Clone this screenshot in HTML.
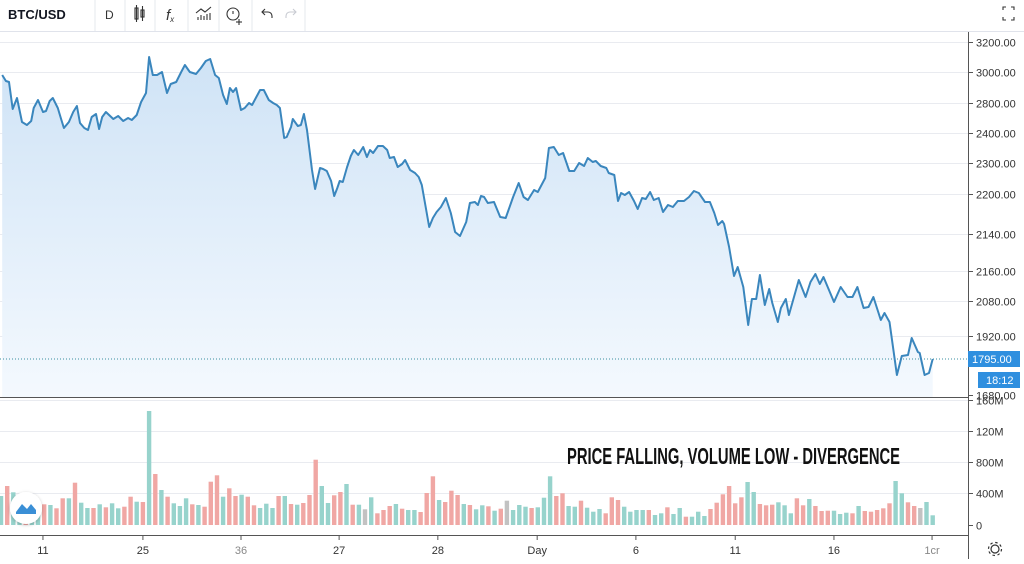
<!DOCTYPE html>
<html><head><meta charset="utf-8">
<style>
html,body{margin:0;padding:0;background:#fff;}
body{width:1024px;height:559px;overflow:hidden;font-family:"Liberation Sans",sans-serif;}
svg text{font-family:"Liberation Sans",sans-serif;}
</style></head>
<body>
<svg id="chart" width="1024" height="559" viewBox="0 0 1024 559" xmlns="http://www.w3.org/2000/svg">
<defs>
<linearGradient id="fillGrad" x1="0" y1="0" x2="0" y2="1">
<stop offset="0" stop-color="#cfe3f6"/>
<stop offset="1" stop-color="#f4f9fe"/>
</linearGradient>
<filter id="sh" x="-50%" y="-50%" width="200%" height="200%"><feDropShadow dx="0" dy="1" stdDeviation="1.5" flood-color="#000" flood-opacity="0.25"/></filter>
</defs>
<!-- toolbar -->
<g>
<rect x="0" y="0" width="1024" height="31" fill="#fff"/>
<line x1="0" y1="31.5" x2="1024" y2="31.5" stroke="#e0e3eb"/>
<text x="8" y="19" font-size="13" font-weight="bold" fill="#131722">BTC/USD</text>
<g stroke="#e6e8ee"><line x1="95" y1="0" x2="95" y2="31"/><line x1="125" y1="0" x2="125" y2="31"/><line x1="155" y1="0" x2="155" y2="31"/><line x1="188" y1="0" x2="188" y2="31"/><line x1="219" y1="0" x2="219" y2="31"/><line x1="252" y1="0" x2="252" y2="31"/><line x1="305" y1="0" x2="305" y2="31"/></g>
<text x="105" y="19" font-size="12" fill="#333">D</text>
<g stroke="#333" fill="none" stroke-width="1.1"><rect x="135" y="8" width="3" height="11"/><line x1="136.5" y1="5" x2="136.5" y2="22"/><rect x="141" y="10" width="3" height="7"/><line x1="142.5" y1="6" x2="142.5" y2="21"/></g>
<text x="166" y="20" font-size="15" font-style="italic" fill="#333" font-family="Liberation Serif">f<tspan font-size="8" dy="2">x</tspan></text>
<g stroke="#333" fill="none" stroke-width="1.1"><polyline points="196,13 201,9 205,12 211,7"/><line x1="198" y1="20" x2="198" y2="17"/><line x1="201" y1="20" x2="201" y2="15"/><line x1="204" y1="20" x2="204" y2="16"/><line x1="207" y1="20" x2="207" y2="14"/><line x1="210" y1="20" x2="210" y2="13"/></g>
<g stroke="#333" fill="none" stroke-width="1.1"><circle cx="233" cy="14" r="6"/><line x1="233" y1="11" x2="233" y2="14"/><line x1="239" y1="19" x2="239" y2="25"/><line x1="236" y1="22" x2="242" y2="22"/></g>
<g stroke="#333" fill="none" stroke-width="1.1"><path d="M262 12 h6 a4 4 0 0 1 4 4 v2"/><polyline points="265,9 262,12 265,15"/></g>
<g stroke="#c8cbd2" fill="none" stroke-width="1.1"><path d="M296 12 h-6 a4 4 0 0 0 -4 4 v2"/><polyline points="293,9 296,12 293,15"/></g>
<g stroke="#333" fill="none" stroke-width="1.1"><polyline points="1003,10 1003,7 1006,7"/><polyline points="1011,7 1014,7 1014,10"/><polyline points="1003,17 1003,20 1006,20"/><polyline points="1011,20 1014,20 1014,17"/></g>
</g>
<g id="grid"></g>
<g id="pricePane"></g>
<g id="volPane"></g>
<g id="axes"></g>
<text x="567" y="464" font-size="23" font-weight="bold" fill="#111" textLength="333" lengthAdjust="spacingAndGlyphs" font-family="Liberation Sans Narrow, Liberation Sans, sans-serif">PRICE FALLING, VOLUME LOW - DIVERGENCE</text>
<g filter="url(#sh)"><circle cx="26" cy="508" r="16" fill="#fff"/></g>
<path d="M16 512 L22 504 L27 509 L31 504 L36 510 L36 514 L16 514 Z" fill="#3a8fd6"/>
<g stroke="#333" fill="none" stroke-width="1.2"><circle cx="995" cy="549" r="4"/><circle cx="995" cy="549" r="6.5" stroke-dasharray="2.5 2.6"/></g>
</svg>
<script>
const priceTimes=[0.2,0.8,1.3,1.9,2.6,3.4,4.2,4.9,5.3,6.0,6.8,7.3,7.9,8.4,9.2,9.7,10.2,11.0,11.7,12.3,12.8,13.5,14.1,14.7,15.4,15.9,16.4,17.0,18.2,19.0,19.8,20.6,21.2,22.0,22.7,23.5,24.0,24.6,25.3,26.1,26.9,27.5,28.4,29.2,29.8,30.6,31.6,32.4,33.2,33.9,34.7,35.3,36.0,36.6,37.1,37.6,38.1,38.9,39.5,40.2,40.7,41.3,42.0,42.6,43.4,44.1,44.7,45.2,45.9,46.3,47.0,47.3,48.1,48.6,49.1,49.6,50.4,50.9,51.7,52.2,52.8,53.5,54.0,54.5,54.9,55.4,56.1,56.7,57.2,57.9,58.7,59.3,59.8,60.3,61.1,61.9,62.6,63.0,63.7,64.3,65.0,65.5,66.3,67.1,67.7,68.2,69.4,70.0,70.6,71.3,72.1,72.9,73.6,74.4,75.4,76.0,76.8,77.3,77.8,78.3,78.9,79.9,80.9,81.8,83.0,83.9,84.7,85.4,86.4,87.0,88.2,88.8,89.6,90.4,91.1,92.1,92.9,93.7,94.5,95.1,95.9,96.4,97.2,98.1,98.5,99.4,100.0,100.5,101.1,101.8,102.6,103.2,103.9,104.5,105.2,105.8,106.6,107.3,108.1,108.9,109.7,110.7,111.5,112.3,113.1,114.1,114.9,115.6,116.2,116.9,117.2,118.0,118.8,119.4,120.3,121.1,121.7,122.4,123.0,123.8,124.5,125.0,125.9,126.4,127.2,127.7,129.3,130.4,131.2,132.0,132.7,133.3,135.0,136.1,137.2,138.0,138.8,139.8,140.6,141.4,142.6,143.2,144.0,145.2,146.0,147.0,147.6,148.6,148.9,149.7,150.4,151.0];
const priceValues=[2960,2936,2932,2824,2868,2772,2760,2776,2828,2860,2812,2816,2856,2868,2828,2788,2748,2772,2812,2836,2768,2748,2740,2792,2804,2744,2792,2812,2784,2796,2776,2788,2780,2800,2852,2888,3032,2960,2960,2972,2888,2924,2932,2972,3000,2972,2964,2988,3016,3024,2960,2948,2880,2844,2908,2892,2908,2820,2828,2848,2840,2868,2900,2900,2860,2848,2840,2828,2708,2712,2752,2784,2756,2760,2804,2740,2580,2504,2588,2584,2576,2536,2476,2508,2536,2532,2592,2636,2660,2640,2672,2632,2660,2648,2676,2676,2660,2628,2632,2592,2604,2620,2580,2568,2552,2520,2352,2388,2412,2432,2468,2408,2332,2316,2372,2448,2452,2440,2476,2472,2448,2452,2392,2388,2472,2528,2472,2460,2500,2492,2548,2668,2672,2640,2648,2576,2576,2608,2596,2628,2612,2616,2596,2588,2568,2560,2456,2488,2480,2492,2456,2424,2468,2464,2492,2460,2468,2412,2440,2432,2456,2456,2472,2496,2488,2452,2452,2408,2360,2376,2364,2272,2156,2192,2112,1960,2064,2064,2160,2040,2104,2048,1972,2028,2064,2000,2140,2072,2132,2164,2124,2152,2052,2112,2072,2072,2112,2028,2032,2072,1980,2008,1972,1760,1836,1840,1908,1852,1848,1760,1768,1824];
const volumeValues=[87,117,98,85,75,65,60,62,60,50,80,80,127,67,51,51,62,53,65,50,55,85,70,69,342,153,105,85,65,57,80,62,60,55,130,149,85,110,87,91,85,59,51,64,51,87,87,63,61,66,90,196,117,66,89,99,123,61,61,47,83,35,45,57,63,49,45,45,39,96,146,75,69,103,90,63,60,47,59,56,43,49,
73,45,60,55,51,53,82,146,87,95,57,55,73,52,40,48,35,83,75,55,40,45,45,45,30,35,53,33,51,25,25,40,27,48,67,92,117,65,83,129,99,63,59,61,68,59,35,80,59,78,57,42,43,43,33,37,35,57,42,40,45,50,65,132,95,68,57,51,69,29];
const volumeDirs="grggrggrgrrgrggrgrggrrgrgrgrgggrgrrrgrrgrrgggrgrgrrrggrrgrgxgrrrgrggrrrgrrrgrggrgr"+"xgggrgggrrggrgggrrrggggrggrggrgggrrrrrrggrrrgggrrgrrrgggrgrrrrrggrrxg";
const priceTickValues=[3092,2972,2848,2728,2608,2484,2324,2176,2056,1916,1680];
const priceTickLabels=["3200.00","3000.00","2800.00","2400.00","2300.00","2200.00","2140.00","2160.00","2080.00","1920.00","1680.00"];
const volTickValues=[375,282,189,96,0];
const volTickLabels=["160M","120M","800M","400M","0"];
const timeTickValues=[6.8,23.0,38.9,54.8,70.8,86.9,102.9,119.0,135.0,150.9];
const timeTickLabels=["11","25","36","27","28","Day","6","11","16","1cr"];
const lastPrice=1824, lastPriceLabel="1795.00", countdownLabel="18:12";

const NS="http://www.w3.org/2000/svg";
const PLOT_R=968, P_TOP=42, P_BOT=395, V_BASE=525;
function xS(t){return 1+t*6.17;}
function yP(v){return P_BOT-(v-1680)/4;}
function yV(v){return V_BASE-v/3;}
function mk(tag,attrs,parent){const e=document.createElementNS(NS,tag);for(const k in attrs)e.setAttribute(k,attrs[k]);parent.appendChild(e);return e;}
const grid=document.getElementById('grid'),pp=document.getElementById('pricePane'),vp=document.getElementById('volPane'),ax=document.getElementById('axes');

priceTickValues.forEach((v,i)=>{
  const y=Math.round(yP(v))+0.5;
  if(i<priceTickValues.length-1){const g=mk('line',{x1:0,x2:PLOT_R,y1:y,y2:y,stroke:'#e9ebf0'},grid);
  
  }
  const tk=mk('line',{x1:PLOT_R,x2:PLOT_R+5,y1:y,y2:y,stroke:'#555'},ax);
  
  
  const t=mk('text',{x:976,y:y+4,'font-size':11,fill:'#333'},ax);t.textContent=priceTickLabels[i];
  
  
});
volTickValues.forEach((v,i)=>{
  const y=Math.round(yV(v))+0.5;
  if(v>0){const g=mk('line',{x1:0,x2:PLOT_R,y1:y,y2:y,stroke:'#e9ebf0'},grid);
  
  }
  const tk=mk('line',{x1:PLOT_R,x2:PLOT_R+5,y1:y,y2:y,stroke:'#555'},ax);
  
  
  const t=mk('text',{x:976,y:y+4,'font-size':11,fill:'#333'},ax);t.textContent=volTickLabels[i];
  
  
});
// area + line
let d='';priceTimes.forEach((t,i)=>{d+=(i?'L':'M')+xS(t).toFixed(1)+' '+yP(priceValues[i]).toFixed(1);});
const area=mk('path',{d:d+'L'+xS(priceTimes[priceTimes.length-1]).toFixed(1)+' 397L'+xS(priceTimes[0]).toFixed(1)+' 397Z',fill:'url(#fillGrad)'},pp);


const ly=yP(lastPrice);
const dl=mk('line',{x1:0,x2:PLOT_R,y1:ly,y2:ly,stroke:'#3a8fa0','stroke-dasharray':'1 2'},pp);


const line=mk('path',{d:d,fill:'none',stroke:'#3a86bd','stroke-width':2,'stroke-linejoin':'round'},pp);


// volume bars
const cols={r:'#f0a7a4',g:'#97d3cc',x:'#c2c2c2'};
volumeValues.forEach((v,i)=>{
  const b=mk('rect',{x:(xS(i)-2.2).toFixed(1),y:yV(v).toFixed(1),width:4.4,height:(v/3).toFixed(1),fill:cols[volumeDirs[i]]||cols.g},vp);
  
  
});
// axes lines
mk('line',{x1:PLOT_R+0.5,x2:PLOT_R+0.5,y1:32,y2:559,stroke:'#555'},ax);
mk('line',{x1:0,x2:PLOT_R,y1:397.5,y2:397.5,stroke:'#555'},ax);
mk('line',{x1:0,x2:PLOT_R,y1:535.5,y2:535.5,stroke:'#555'},ax);
timeTickValues.forEach((t,i)=>{
  const x=xS(t);
  const tk=mk('line',{x1:x,x2:x,y1:536,y2:540,stroke:'#555'},ax);
  
  
  const tx=mk('text',{x:x,y:554,'font-size':11,fill:i==2||i==9?'#888':'#333','text-anchor':'middle'},ax);tx.textContent=timeTickLabels[i];
  
  
});
// price label boxes
const lb=mk('rect',{x:968,y:ly-8,width:52,height:16,fill:'#2f8fdf'},ax);


const lt=mk('text',{x:972,y:ly+4,'font-size':11,fill:'#fff'},ax);lt.textContent=lastPriceLabel;


const cb=mk('rect',{x:978,y:ly+13,width:42,height:16,fill:'#2f8fdf'},ax);


const ct=mk('text',{x:986,y:ly+25,'font-size':11,fill:'#fff'},ax);ct.textContent=countdownLabel;


</script>
</body></html>
